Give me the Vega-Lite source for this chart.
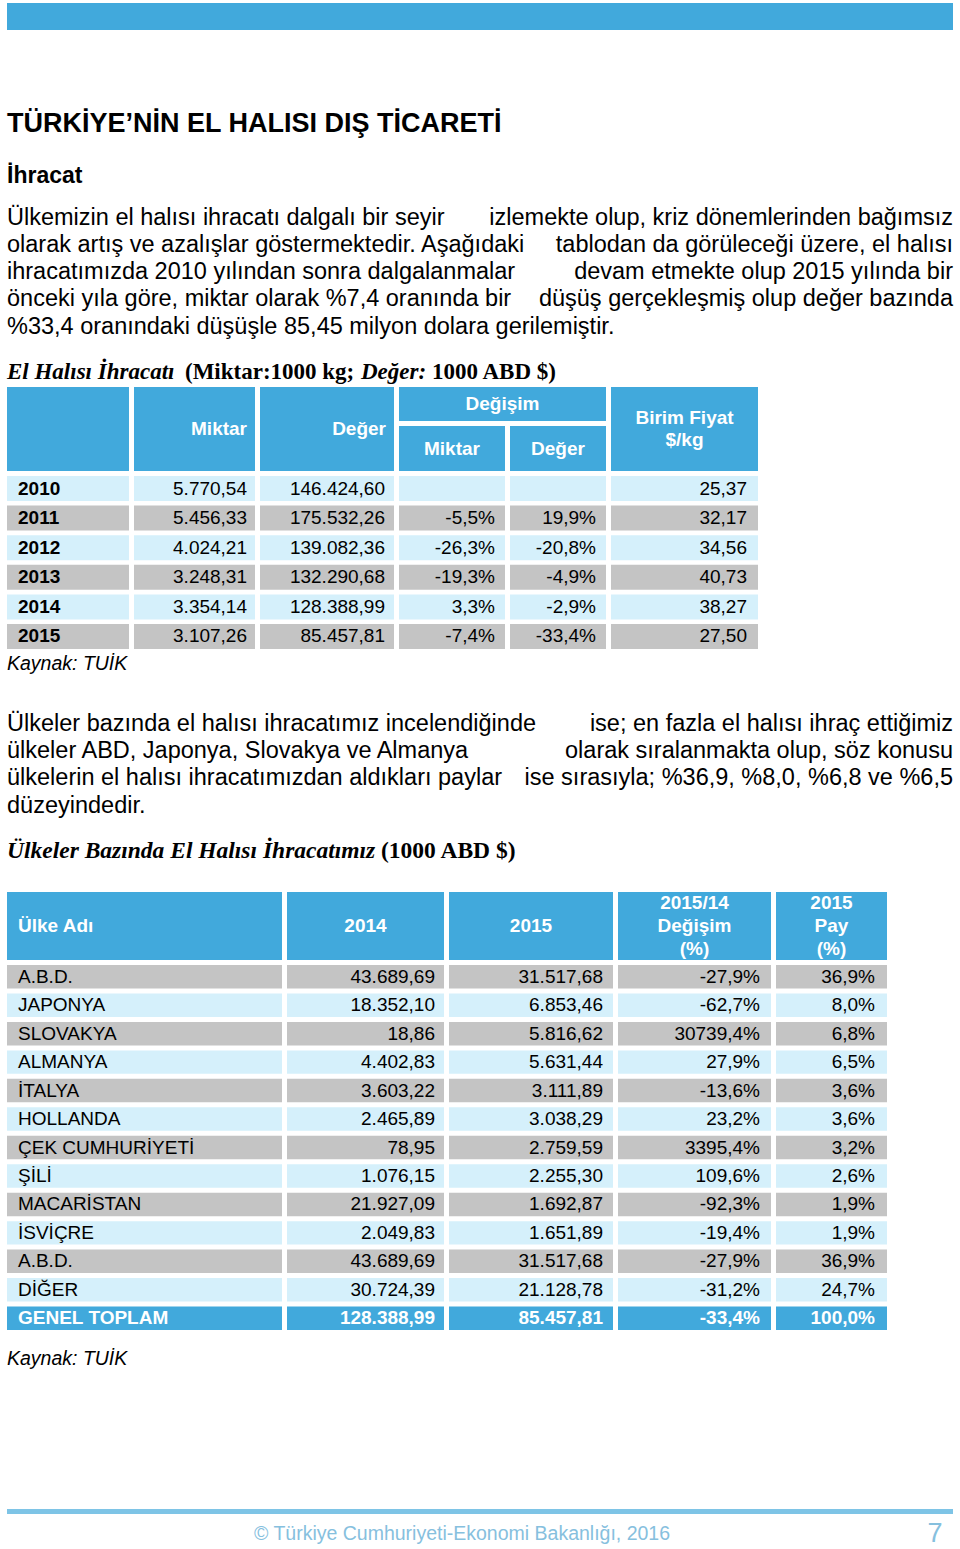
{
"$schema": "https://vega.github.io/schema/vega-lite/v6.json",
"padding": {"left": 7, "top": 3, "right": 0, "bottom": 0},
"spacing": 0,
"config": {"view": {"stroke": null}, "axis": {"disable": true}, "legend": {"disable": true}, "font": "Liberation Sans", "text": {"font": "Liberation Sans", "fontSize": 19, "baseline": "middle", "color": "#000000"}},
"datasets": {
"t1": [
{"year": 2010, "miktar": "5.770,54", "deger": "146.424,60", "dmiktar": "", "ddeger": "", "birim": "25,37"},
{"year": 2011, "miktar": "5.456,33", "deger": "175.532,26", "dmiktar": "-5,5%", "ddeger": "19,9%", "birim": "32,17"},
{"year": 2012, "miktar": "4.024,21", "deger": "139.082,36", "dmiktar": "-26,3%", "ddeger": "-20,8%", "birim": "34,56"},
{"year": 2013, "miktar": "3.248,31", "deger": "132.290,68", "dmiktar": "-19,3%", "ddeger": "-4,9%", "birim": "40,73"},
{"year": 2014, "miktar": "3.354,14", "deger": "128.388,99", "dmiktar": "3,3%", "ddeger": "-2,9%", "birim": "38,27"},
{"year": 2015, "miktar": "3.107,26", "deger": "85.457,81", "dmiktar": "-7,4%", "ddeger": "-33,4%", "birim": "27,50"}
],
"t2": [
{"i": 1, "ulke": "A.B.D.", "y2014": "43.689,69", "y2015": "31.517,68", "degisim": "-27,9%", "pay": "36,9%"},
{"i": 2, "ulke": "JAPONYA", "y2014": "18.352,10", "y2015": "6.853,46", "degisim": "-62,7%", "pay": "8,0%"},
{"i": 3, "ulke": "SLOVAKYA", "y2014": "18,86", "y2015": "5.816,62", "degisim": "30739,4%", "pay": "6,8%"},
{"i": 4, "ulke": "ALMANYA", "y2014": "4.402,83", "y2015": "5.631,44", "degisim": "27,9%", "pay": "6,5%"},
{"i": 5, "ulke": "İTALYA", "y2014": "3.603,22", "y2015": "3.111,89", "degisim": "-13,6%", "pay": "3,6%"},
{"i": 6, "ulke": "HOLLANDA", "y2014": "2.465,89", "y2015": "3.038,29", "degisim": "23,2%", "pay": "3,6%"},
{"i": 7, "ulke": "ÇEK CUMHURİYETİ", "y2014": "78,95", "y2015": "2.759,59", "degisim": "3395,4%", "pay": "3,2%"},
{"i": 8, "ulke": "ŞİLİ", "y2014": "1.076,15", "y2015": "2.255,30", "degisim": "109,6%", "pay": "2,6%"},
{"i": 9, "ulke": "MACARİSTAN", "y2014": "21.927,09", "y2015": "1.692,87", "degisim": "-92,3%", "pay": "1,9%"},
{"i": 10, "ulke": "İSVİÇRE", "y2014": "2.049,83", "y2015": "1.651,89", "degisim": "-19,4%", "pay": "1,9%"},
{"i": 11, "ulke": "A.B.D.", "y2014": "43.689,69", "y2015": "31.517,68", "degisim": "-27,9%", "pay": "36,9%"},
{"i": 12, "ulke": "DİĞER", "y2014": "30.724,39", "y2015": "21.128,78", "degisim": "-31,2%", "pay": "24,7%"},
{"i": 13, "ulke": "GENEL TOPLAM", "y2014": "128.388,99", "y2015": "85.457,81", "degisim": "-33,4%", "pay": "100,0%"}
],
"p1": [
{"line": 1, "side": "L", "text": "Ülkemizin el halısı ihracatı dalgalı bir seyir"},
{"line": 1, "side": "R", "text": "izlemekte olup, kriz dönemlerinden bağımsız"},
{"line": 2, "side": "L", "text": "olarak artış ve azalışlar göstermektedir. Aşağıdaki"},
{"line": 2, "side": "R", "text": "tablodan da görüleceği üzere, el halısı"},
{"line": 3, "side": "L", "text": "ihracatımızda 2010 yılından sonra dalgalanmalar"},
{"line": 3, "side": "R", "text": "devam etmekte olup 2015 yılında bir"},
{"line": 4, "side": "L", "text": "önceki yıla göre, miktar olarak %7,4 oranında bir"},
{"line": 4, "side": "R", "text": "düşüş gerçekleşmiş olup değer bazında"},
{"line": 5, "side": "L", "text": "%33,4 oranındaki düşüşle 85,45 milyon dolara gerilemiştir."}
],
"p2": [
{"line": 1, "side": "L", "text": "Ülkeler bazında el halısı ihracatımız incelendiğinde"},
{"line": 1, "side": "R", "text": "ise; en fazla el halısı ihraç ettiğimiz"},
{"line": 2, "side": "L", "text": "ülkeler ABD, Japonya, Slovakya ve Almanya"},
{"line": 2, "side": "R", "text": "olarak sıralanmakta olup, söz konusu"},
{"line": 3, "side": "L", "text": "ülkelerin el halısı ihracatımızdan aldıkları paylar"},
{"line": 3, "side": "R", "text": "ise sırasıyla; %36,9, %8,0, %6,8 ve %6,5"},
{"line": 4, "side": "L", "text": "düzeyindedir."}
]
},
"vconcat": [
{"width": 946, "height": 27, "data": {"values": [{"part": "top bar"}]}, "mark": {"type": "rect", "color": "#41A9DC"}, "encoding": {}},
{"width": 946, "height": 72, "data": {"values": []}, "mark": {"type": "text"}, "encoding": {}},
{"width": 946, "height": 44.5, "data": {"values": [{"text": "TÜRKİYE’NİN EL HALISI DIŞ TİCARETİ"}]}, "mark": {"type": "text", "align": "left", "fontSize": 27, "fontWeight": "bold"}, "encoding": {"text": {"field": "text"}, "x": {"datum": "L", "type": "nominal", "scale": {"type": "point", "domain": ["L", "C", "R"], "padding": 0}}}},
{"width": 946, "height": 57, "data": {"values": [{"text": "İhracat"}]}, "mark": {"type": "text", "align": "left", "fontSize": 23, "fontWeight": "bold"}, "encoding": {"text": {"field": "text"}, "x": {"datum": "L", "type": "nominal", "scale": {"type": "point", "domain": ["L", "C", "R"], "padding": 0}}}},
{"width": 946, "height": 136.25, "data": {"name": "p1"},
 "encoding": {"y": {"field": "line", "type": "ordinal", "scale": {"type": "band", "paddingInner": 0, "paddingOuter": 0}}, "text": {"field": "text"}, "x": {"field": "side", "type": "nominal", "scale": {"type": "point", "domain": ["L", "C", "R"], "padding": 0}}},
 "layer": [
  {"transform": [{"filter": "datum.side == 'L'"}], "mark": {"type": "text", "align": "left", "fontSize": 23.5}},
  {"transform": [{"filter": "datum.side == 'R'"}], "mark": {"type": "text", "align": "right", "fontSize": 23.5}}
 ]},
{"width": 946, "height": 15.25, "data": {"values": []}, "mark": {"type": "text"}, "encoding": {}},
{"hconcat": [
  {"width": 177.8, "height": 30, "data": {"values": [{"text": "El Halısı İhracatı"}]}, "mark": {"type": "text", "align": "left", "font": "Liberation Serif", "fontSize": 23, "fontWeight": "bold", "fontStyle": "italic"}, "encoding": {"text": {"field": "text"}, "x": {"datum": "L", "type": "nominal", "scale": {"type": "point", "domain": ["L", "C", "R"], "padding": 0}}}},
  {"width": 175.8, "height": 30, "data": {"values": [{"text": "(Miktar:1000 kg;"}]}, "mark": {"type": "text", "align": "left", "font": "Liberation Serif", "fontSize": 23, "fontWeight": "bold"}, "encoding": {"text": {"field": "text"}, "x": {"datum": "L", "type": "nominal", "scale": {"type": "point", "domain": ["L", "C", "R"], "padding": 0}}}},
  {"width": 70.9, "height": 30, "data": {"values": [{"text": "Değer:"}]}, "mark": {"type": "text", "align": "left", "font": "Liberation Serif", "fontSize": 23, "fontWeight": "bold", "fontStyle": "italic"}, "encoding": {"text": {"field": "text"}, "x": {"datum": "L", "type": "nominal", "scale": {"type": "point", "domain": ["L", "C", "R"], "padding": 0}}}},
  {"width": 521.5, "height": 30, "data": {"values": [{"text": "1000 ABD $)"}]}, "mark": {"type": "text", "align": "left", "font": "Liberation Serif", "fontSize": 23, "fontWeight": "bold"}, "encoding": {"text": {"field": "text"}, "x": {"datum": "L", "type": "nominal", "scale": {"type": "point", "domain": ["L", "C", "R"], "padding": 0}}}}
], "spacing": 0},
{"hconcat": [
  {"vconcat": [
    {"width": 122, "height": 84, "data": {"values": [{"label": ""}]}, "mark": {"type": "rect", "color": "#41A9DC"}, "encoding": {}},
    {"width": 122, "height": 173, "data": {"name": "t1"}, "encoding": {"y": {"field": "year", "type": "ordinal", "scale": {"type": "band", "paddingInner": 0.155, "paddingOuter": 0}}},
     "layer": [
      {"mark": {"type": "rect"}, "encoding": {"color": {"condition": {"test": "datum.year % 2 == 1", "value": "#C4C4C4"}, "value": "#D5F0FB"}}},
      {"mark": {"type": "text", "align": "left", "dx": 11, "fontWeight": "bold"}, "encoding": {"text": {"field": "year", "type": "nominal"}, "x": {"datum": "L", "type": "nominal", "scale": {"type": "point", "domain": ["L", "C", "R"], "padding": 0}}}}
     ]}
  ], "spacing": 5},
  {"vconcat": [
    {"width": 121, "height": 84, "data": {"values": [{"label": "Miktar"}]}, "layer": [
      {"mark": {"type": "rect", "color": "#41A9DC"}, "encoding": {}},
      {"mark": {"type": "text", "align": "right", "dx": -8, "fontWeight": "bold", "color": "white"}, "encoding": {"text": {"field": "label"}, "x": {"datum": "R", "type": "nominal", "scale": {"type": "point", "domain": ["L", "C", "R"], "padding": 0}}}}
    ]},
    {"width": 121, "height": 173, "data": {"name": "t1"}, "encoding": {"y": {"field": "year", "type": "ordinal", "scale": {"type": "band", "paddingInner": 0.155, "paddingOuter": 0}}},
     "layer": [
      {"mark": {"type": "rect"}, "encoding": {"color": {"condition": {"test": "datum.year % 2 == 1", "value": "#C4C4C4"}, "value": "#D5F0FB"}}},
      {"mark": {"type": "text", "align": "right", "dx": -8}, "encoding": {"text": {"field": "miktar"}, "x": {"datum": "R", "type": "nominal", "scale": {"type": "point", "domain": ["L", "C", "R"], "padding": 0}}}}
     ]}
  ], "spacing": 5},
  {"vconcat": [
    {"width": 134, "height": 84, "data": {"values": [{"label": "Değer"}]}, "layer": [
      {"mark": {"type": "rect", "color": "#41A9DC"}, "encoding": {}},
      {"mark": {"type": "text", "align": "right", "dx": -8, "fontWeight": "bold", "color": "white"}, "encoding": {"text": {"field": "label"}, "x": {"datum": "R", "type": "nominal", "scale": {"type": "point", "domain": ["L", "C", "R"], "padding": 0}}}}
    ]},
    {"width": 134, "height": 173, "data": {"name": "t1"}, "encoding": {"y": {"field": "year", "type": "ordinal", "scale": {"type": "band", "paddingInner": 0.155, "paddingOuter": 0}}},
     "layer": [
      {"mark": {"type": "rect"}, "encoding": {"color": {"condition": {"test": "datum.year % 2 == 1", "value": "#C4C4C4"}, "value": "#D5F0FB"}}},
      {"mark": {"type": "text", "align": "right", "dx": -9}, "encoding": {"text": {"field": "deger"}, "x": {"datum": "R", "type": "nominal", "scale": {"type": "point", "domain": ["L", "C", "R"], "padding": 0}}}}
     ]}
  ], "spacing": 5},
  {"vconcat": [
    {"width": 207, "height": 34, "data": {"values": [{"label": "Değişim"}]}, "layer": [
      {"mark": {"type": "rect", "color": "#41A9DC"}, "encoding": {}},
      {"mark": {"type": "text", "align": "center", "fontWeight": "bold", "color": "white"}, "encoding": {"text": {"field": "label"}, "x": {"datum": "C", "type": "nominal", "scale": {"type": "point", "domain": ["L", "C", "R"], "padding": 0}}}}
    ]},
    {"hconcat": [
      {"vconcat": [
        {"width": 106, "height": 45, "data": {"values": [{"label": "Miktar"}]}, "layer": [
          {"mark": {"type": "rect", "color": "#41A9DC"}, "encoding": {}},
          {"mark": {"type": "text", "align": "center", "fontWeight": "bold", "color": "white"}, "encoding": {"text": {"field": "label"}, "x": {"datum": "C", "type": "nominal", "scale": {"type": "point", "domain": ["L", "C", "R"], "padding": 0}}}}
        ]},
        {"width": 106, "height": 173, "data": {"name": "t1"}, "encoding": {"y": {"field": "year", "type": "ordinal", "scale": {"type": "band", "paddingInner": 0.155, "paddingOuter": 0}}},
         "layer": [
          {"mark": {"type": "rect"}, "encoding": {"color": {"condition": {"test": "datum.year % 2 == 1", "value": "#C4C4C4"}, "value": "#D5F0FB"}}},
          {"mark": {"type": "text", "align": "right", "dx": -10}, "encoding": {"text": {"field": "dmiktar"}, "x": {"datum": "R", "type": "nominal", "scale": {"type": "point", "domain": ["L", "C", "R"], "padding": 0}}}}
         ]}
      ], "spacing": 5},
      {"vconcat": [
        {"width": 96, "height": 45, "data": {"values": [{"label": "Değer"}]}, "layer": [
          {"mark": {"type": "rect", "color": "#41A9DC"}, "encoding": {}},
          {"mark": {"type": "text", "align": "center", "fontWeight": "bold", "color": "white"}, "encoding": {"text": {"field": "label"}, "x": {"datum": "C", "type": "nominal", "scale": {"type": "point", "domain": ["L", "C", "R"], "padding": 0}}}}
        ]},
        {"width": 96, "height": 173, "data": {"name": "t1"}, "encoding": {"y": {"field": "year", "type": "ordinal", "scale": {"type": "band", "paddingInner": 0.155, "paddingOuter": 0}}},
         "layer": [
          {"mark": {"type": "rect"}, "encoding": {"color": {"condition": {"test": "datum.year % 2 == 1", "value": "#C4C4C4"}, "value": "#D5F0FB"}}},
          {"mark": {"type": "text", "align": "right", "dx": -10}, "encoding": {"text": {"field": "ddeger"}, "x": {"datum": "R", "type": "nominal", "scale": {"type": "point", "domain": ["L", "C", "R"], "padding": 0}}}}
         ]}
      ], "spacing": 5}
    ], "spacing": 5}
  ], "spacing": 5},
  {"vconcat": [
    {"width": 147, "height": 84, "data": {"values": [{"ln": 1, "label": "Birim Fiyat"}, {"ln": 2, "label": "$/kg"}]}, "layer": [
      {"mark": {"type": "rect", "color": "#41A9DC"}, "encoding": {}},
      {"mark": {"type": "text", "align": "center", "fontWeight": "bold", "color": "white"}, "encoding": {"y": {"field": "ln", "type": "ordinal", "scale": {"type": "band", "paddingInner": 0, "paddingOuter": 0.909}}, "text": {"field": "label"}, "x": {"datum": "C", "type": "nominal", "scale": {"type": "point", "domain": ["L", "C", "R"], "padding": 0}}}}
    ]},
    {"width": 147, "height": 173, "data": {"name": "t1"}, "encoding": {"y": {"field": "year", "type": "ordinal", "scale": {"type": "band", "paddingInner": 0.155, "paddingOuter": 0}}},
     "layer": [
      {"mark": {"type": "rect"}, "encoding": {"color": {"condition": {"test": "datum.year % 2 == 1", "value": "#C4C4C4"}, "value": "#D5F0FB"}}},
      {"mark": {"type": "text", "align": "right", "dx": -11}, "encoding": {"text": {"field": "birim"}, "x": {"datum": "R", "type": "nominal", "scale": {"type": "point", "domain": ["L", "C", "R"], "padding": 0}}}}
     ]}
  ], "spacing": 5}
], "spacing": 5},
{"width": 946, "height": 30, "data": {"values": [{"text": "Kaynak: TUİK"}]}, "mark": {"type": "text", "align": "left", "fontSize": 19.5, "fontStyle": "italic"}, "encoding": {"text": {"field": "text"}, "x": {"datum": "L", "type": "nominal", "scale": {"type": "point", "domain": ["L", "C", "R"], "padding": 0}}}},
{"width": 946, "height": 30.35, "data": {"values": []}, "mark": {"type": "text"}, "encoding": {}},
{"width": 946, "height": 109.2, "data": {"name": "p2"},
 "encoding": {"y": {"field": "line", "type": "ordinal", "scale": {"type": "band", "paddingInner": 0, "paddingOuter": 0}}, "text": {"field": "text"}, "x": {"field": "side", "type": "nominal", "scale": {"type": "point", "domain": ["L", "C", "R"], "padding": 0}}},
 "layer": [
  {"transform": [{"filter": "datum.side == 'L'"}], "mark": {"type": "text", "align": "left", "fontSize": 23.5}},
  {"transform": [{"filter": "datum.side == 'R'"}], "mark": {"type": "text", "align": "right", "fontSize": 23.5}}
 ]},
{"width": 946, "height": 18, "data": {"values": []}, "mark": {"type": "text"}, "encoding": {}},
{"hconcat": [
  {"width": 374, "height": 26, "data": {"values": [{"text": "Ülkeler Bazında El Halısı İhracatımız"}]}, "mark": {"type": "text", "align": "left", "font": "Liberation Serif", "fontSize": 23.5, "fontWeight": "bold", "fontStyle": "italic"}, "encoding": {"text": {"field": "text"}, "x": {"datum": "L", "type": "nominal", "scale": {"type": "point", "domain": ["L", "C", "R"], "padding": 0}}}},
  {"width": 572, "height": 26, "data": {"values": [{"text": "(1000 ABD $)"}]}, "mark": {"type": "text", "align": "left", "font": "Liberation Serif", "fontSize": 23.5, "fontWeight": "bold"}, "encoding": {"text": {"field": "text"}, "x": {"datum": "L", "type": "nominal", "scale": {"type": "point", "domain": ["L", "C", "R"], "padding": 0}}}}
], "spacing": 0},
{"width": 946, "height": 27.5, "data": {"values": []}, "mark": {"type": "text"}, "encoding": {}},
{"hconcat": [
  {"vconcat": [
    {"width": 275, "height": 68, "data": {"values": [{"label": "Ülke Adı"}]}, "layer": [
      {"mark": {"type": "rect", "color": "#41A9DC"}, "encoding": {}},
      {"mark": {"type": "text", "align": "left", "dx": 11, "fontWeight": "bold", "color": "white"}, "encoding": {"text": {"field": "label"}, "x": {"datum": "L", "type": "nominal", "scale": {"type": "point", "domain": ["L", "C", "R"], "padding": 0}}}}
    ]},
    {"width": 275, "height": 365, "data": {"name": "t2"}, "encoding": {"y": {"field": "i", "type": "ordinal", "scale": {"type": "band", "paddingInner": 0.176, "paddingOuter": 0}}},
     "layer": [
      {"mark": {"type": "rect"}, "encoding": {"color": {"condition": [{"test": "datum.i == 13", "value": "#41A9DC"}, {"test": "datum.i % 2 == 1", "value": "#C4C4C4"}], "value": "#D5F0FB"}}},
      {"transform": [{"filter": "datum.i < 13"}], "mark": {"type": "text", "align": "left", "dx": 11}, "encoding": {"text": {"field": "ulke"}, "x": {"datum": "L", "type": "nominal", "scale": {"type": "point", "domain": ["L", "C", "R"], "padding": 0}}}},
      {"transform": [{"filter": "datum.i == 13"}], "mark": {"type": "text", "align": "left", "dx": 11, "fontWeight": "bold", "color": "white"}, "encoding": {"text": {"field": "ulke"}, "x": {"datum": "L", "type": "nominal", "scale": {"type": "point", "domain": ["L", "C", "R"], "padding": 0}}}}
     ]}
  ], "spacing": 5},
  {"vconcat": [
    {"width": 157, "height": 68, "data": {"values": [{"label": "2014"}]}, "layer": [
      {"mark": {"type": "rect", "color": "#41A9DC"}, "encoding": {}},
      {"mark": {"type": "text", "align": "center", "fontWeight": "bold", "color": "white"}, "encoding": {"text": {"field": "label"}, "x": {"datum": "C", "type": "nominal", "scale": {"type": "point", "domain": ["L", "C", "R"], "padding": 0}}}}
    ]},
    {"width": 157, "height": 365, "data": {"name": "t2"}, "encoding": {"y": {"field": "i", "type": "ordinal", "scale": {"type": "band", "paddingInner": 0.176, "paddingOuter": 0}}},
     "layer": [
      {"mark": {"type": "rect"}, "encoding": {"color": {"condition": [{"test": "datum.i == 13", "value": "#41A9DC"}, {"test": "datum.i % 2 == 1", "value": "#C4C4C4"}], "value": "#D5F0FB"}}},
      {"transform": [{"filter": "datum.i < 13"}], "mark": {"type": "text", "align": "right", "dx": -9}, "encoding": {"text": {"field": "y2014"}, "x": {"datum": "R", "type": "nominal", "scale": {"type": "point", "domain": ["L", "C", "R"], "padding": 0}}}},
      {"transform": [{"filter": "datum.i == 13"}], "mark": {"type": "text", "align": "right", "dx": -9, "fontWeight": "bold", "color": "white"}, "encoding": {"text": {"field": "y2014"}, "x": {"datum": "R", "type": "nominal", "scale": {"type": "point", "domain": ["L", "C", "R"], "padding": 0}}}}
     ]}
  ], "spacing": 5},
  {"vconcat": [
    {"width": 164, "height": 68, "data": {"values": [{"label": "2015"}]}, "layer": [
      {"mark": {"type": "rect", "color": "#41A9DC"}, "encoding": {}},
      {"mark": {"type": "text", "align": "center", "fontWeight": "bold", "color": "white"}, "encoding": {"text": {"field": "label"}, "x": {"datum": "C", "type": "nominal", "scale": {"type": "point", "domain": ["L", "C", "R"], "padding": 0}}}}
    ]},
    {"width": 164, "height": 365, "data": {"name": "t2"}, "encoding": {"y": {"field": "i", "type": "ordinal", "scale": {"type": "band", "paddingInner": 0.176, "paddingOuter": 0}}},
     "layer": [
      {"mark": {"type": "rect"}, "encoding": {"color": {"condition": [{"test": "datum.i == 13", "value": "#41A9DC"}, {"test": "datum.i % 2 == 1", "value": "#C4C4C4"}], "value": "#D5F0FB"}}},
      {"transform": [{"filter": "datum.i < 13"}], "mark": {"type": "text", "align": "right", "dx": -10}, "encoding": {"text": {"field": "y2015"}, "x": {"datum": "R", "type": "nominal", "scale": {"type": "point", "domain": ["L", "C", "R"], "padding": 0}}}},
      {"transform": [{"filter": "datum.i == 13"}], "mark": {"type": "text", "align": "right", "dx": -10, "fontWeight": "bold", "color": "white"}, "encoding": {"text": {"field": "y2015"}, "x": {"datum": "R", "type": "nominal", "scale": {"type": "point", "domain": ["L", "C", "R"], "padding": 0}}}}
     ]}
  ], "spacing": 5},
  {"vconcat": [
    {"width": 153, "height": 68, "data": {"values": [{"ln": 1, "label": "2015/14"}, {"ln": 2, "label": "Değişim"}, {"ln": 3, "label": "(%)"}]}, "layer": [
      {"mark": {"type": "rect", "color": "#41A9DC"}, "encoding": {}},
      {"mark": {"type": "text", "align": "center", "fontWeight": "bold", "color": "white"}, "encoding": {"y": {"field": "ln", "type": "ordinal", "scale": {"type": "band", "paddingInner": 0, "paddingOuter": 0}}, "text": {"field": "label"}, "x": {"datum": "C", "type": "nominal", "scale": {"type": "point", "domain": ["L", "C", "R"], "padding": 0}}}}
    ]},
    {"width": 153, "height": 365, "data": {"name": "t2"}, "encoding": {"y": {"field": "i", "type": "ordinal", "scale": {"type": "band", "paddingInner": 0.176, "paddingOuter": 0}}},
     "layer": [
      {"mark": {"type": "rect"}, "encoding": {"color": {"condition": [{"test": "datum.i == 13", "value": "#41A9DC"}, {"test": "datum.i % 2 == 1", "value": "#C4C4C4"}], "value": "#D5F0FB"}}},
      {"transform": [{"filter": "datum.i < 13"}], "mark": {"type": "text", "align": "right", "dx": -11}, "encoding": {"text": {"field": "degisim"}, "x": {"datum": "R", "type": "nominal", "scale": {"type": "point", "domain": ["L", "C", "R"], "padding": 0}}}},
      {"transform": [{"filter": "datum.i == 13"}], "mark": {"type": "text", "align": "right", "dx": -11, "fontWeight": "bold", "color": "white"}, "encoding": {"text": {"field": "degisim"}, "x": {"datum": "R", "type": "nominal", "scale": {"type": "point", "domain": ["L", "C", "R"], "padding": 0}}}}
     ]}
  ], "spacing": 5},
  {"vconcat": [
    {"width": 111, "height": 68, "data": {"values": [{"ln": 1, "label": "2015"}, {"ln": 2, "label": "Pay"}, {"ln": 3, "label": "(%)"}]}, "layer": [
      {"mark": {"type": "rect", "color": "#41A9DC"}, "encoding": {}},
      {"mark": {"type": "text", "align": "center", "fontWeight": "bold", "color": "white"}, "encoding": {"y": {"field": "ln", "type": "ordinal", "scale": {"type": "band", "paddingInner": 0, "paddingOuter": 0}}, "text": {"field": "label"}, "x": {"datum": "C", "type": "nominal", "scale": {"type": "point", "domain": ["L", "C", "R"], "padding": 0}}}}
    ]},
    {"width": 111, "height": 365, "data": {"name": "t2"}, "encoding": {"y": {"field": "i", "type": "ordinal", "scale": {"type": "band", "paddingInner": 0.176, "paddingOuter": 0}}},
     "layer": [
      {"mark": {"type": "rect"}, "encoding": {"color": {"condition": [{"test": "datum.i == 13", "value": "#41A9DC"}, {"test": "datum.i % 2 == 1", "value": "#C4C4C4"}], "value": "#D5F0FB"}}},
      {"transform": [{"filter": "datum.i < 13"}], "mark": {"type": "text", "align": "right", "dx": -12}, "encoding": {"text": {"field": "pay"}, "x": {"datum": "R", "type": "nominal", "scale": {"type": "point", "domain": ["L", "C", "R"], "padding": 0}}}},
      {"transform": [{"filter": "datum.i == 13"}], "mark": {"type": "text", "align": "right", "dx": -12, "fontWeight": "bold", "color": "white"}, "encoding": {"text": {"field": "pay"}, "x": {"datum": "R", "type": "nominal", "scale": {"type": "point", "domain": ["L", "C", "R"], "padding": 0}}}}
     ]}
  ], "spacing": 5}
], "spacing": 5},
{"width": 946, "height": 58, "data": {"values": [{"text": "Kaynak: TUİK"}]}, "mark": {"type": "text", "align": "left", "fontSize": 19.5, "fontStyle": "italic"}, "encoding": {"text": {"field": "text"}, "x": {"datum": "L", "type": "nominal", "scale": {"type": "point", "domain": ["L", "C", "R"], "padding": 0}}}},
{"width": 946, "height": 121, "data": {"values": []}, "mark": {"type": "text"}, "encoding": {}},
{"width": 946, "height": 5, "data": {"values": [{"part": "footer rule"}]}, "mark": {"type": "rect", "color": "#7EC4E6"}, "encoding": {}},
{"hconcat": [
  {"width": 910, "height": 40, "data": {"values": [{"text": "© Türkiye Cumhuriyeti-Ekonomi Bakanlığı, 2016"}]}, "mark": {"type": "text", "align": "center", "font": "Liberation Sans", "fontSize": 19.5, "color": "#86C0DE"}, "encoding": {"text": {"field": "text"}, "x": {"datum": "C", "type": "nominal", "scale": {"type": "point", "domain": ["L", "C", "R"], "padding": 0}}}},
  {"width": 36, "height": 40, "data": {"values": [{"text": "7"}]}, "mark": {"type": "text", "align": "center", "font": "Liberation Sans", "fontSize": 27, "color": "#86C0DE"}, "encoding": {"text": {"field": "text"}, "x": {"datum": "C", "type": "nominal", "scale": {"type": "point", "domain": ["L", "C", "R"], "padding": 0}}}}
], "spacing": 0}
]
}
